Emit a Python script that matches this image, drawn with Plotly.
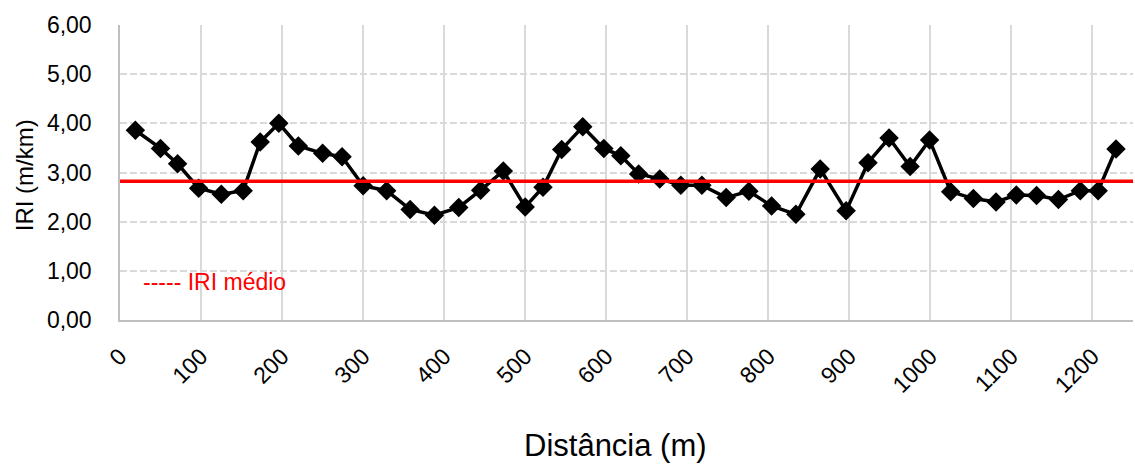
import plotly.graph_objects as go

# Distance along the section (m) and measured IRI (m/km)
distancia = [19, 50, 71, 97, 125, 152, 173, 196, 220, 250, 274, 300, 329, 358, 388, 418,
             445, 473, 500, 522, 545, 571, 597, 618, 640, 666, 692, 718, 748, 776, 804, 834,
             864, 896, 923, 949, 975, 999, 1025, 1053, 1081, 1106, 1131, 1158, 1185, 1207, 1229]
iri = [3.86, 3.49, 3.18, 2.68, 2.56, 2.63, 3.62, 4.00, 3.54, 3.39, 3.32, 2.73, 2.63, 2.25, 2.13, 2.29,
       2.64, 3.03, 2.30, 2.70, 3.47, 3.93, 3.49, 3.34, 2.97, 2.87, 2.74, 2.74, 2.49, 2.62, 2.32, 2.15,
       3.07, 2.22, 3.20, 3.70, 3.12, 3.66, 2.61, 2.47, 2.40, 2.54, 2.53, 2.45, 2.63, 2.63, 3.48]
iri_medio = 2.82

x_ticks = [0, 100, 200, 300, 400, 500, 600, 700, 800, 900, 1000, 1100, 1200]
y_ticks = [0, 1, 2, 3, 4, 5, 6]

FONT = "Liberation Sans, Arial, sans-serif"
GRID = "#D9D9D9"
AXIS = "#BFBFBF"

fig = go.Figure()

fig.add_trace(go.Scatter(
    x=distancia, y=iri, mode="lines+markers",
    line=dict(color="black", width=3.5),
    marker=dict(symbol="diamond", size=15, color="black"),
    showlegend=False,
))

# Mean IRI reference line
fig.add_hline(y=iri_medio, line=dict(color="#FF0000", width=3.5), layer="above")

fig.add_annotation(
    x=26, y=0.77, xref="x", yref="y", xanchor="left", yanchor="middle",
    text="----- IRI médio", showarrow=False,
    font=dict(family=FONT, size=23, color="#FF0000"),
)

# Axis titles
fig.add_annotation(
    x=0.489, y=-0.424, xref="paper", yref="paper", xanchor="center", yanchor="middle",
    text="Distância (m)", showarrow=False,
    font=dict(family=FONT, size=31, color="black"),
)
fig.add_annotation(
    x=-0.094, y=0.49, xref="paper", yref="paper", xanchor="center", yanchor="middle",
    text="IRI (m/km)", showarrow=False, textangle=-90,
    font=dict(family=FONT, size=24, color="black"),
)

fig.update_layout(
    width=1135, height=468,
    margin=dict(l=120, r=2, t=25, b=148, autoexpand=False),
    paper_bgcolor="white", plot_bgcolor="white",
    separators=",.",
    font=dict(family=FONT, size=23, color="black"),
    xaxis=dict(
        range=[0, 1250], tickvals=x_ticks, tickformat="d", tickangle=-45,
        showgrid=True, gridcolor=GRID, gridwidth=1.5,
        showline=True, linecolor=AXIS, linewidth=1.5, zeroline=False,
        ticks="outside", ticklen=12, tickcolor="rgba(0,0,0,0)",
        tickfont=dict(family=FONT, size=23, color="black"),
    ),
    yaxis=dict(
        range=[0, 6], tickvals=y_ticks, tickformat=".2f",
        showgrid=True, gridcolor=GRID, gridwidth=1.5, griddash="7px,3px",
        showline=True, linecolor=AXIS, linewidth=1.5, zeroline=False,
        ticks="outside", ticklen=22, tickcolor="rgba(0,0,0,0)",
        tickfont=dict(family=FONT, size=23, color="black"),
    ),
)

fig.write_html("out.html")
